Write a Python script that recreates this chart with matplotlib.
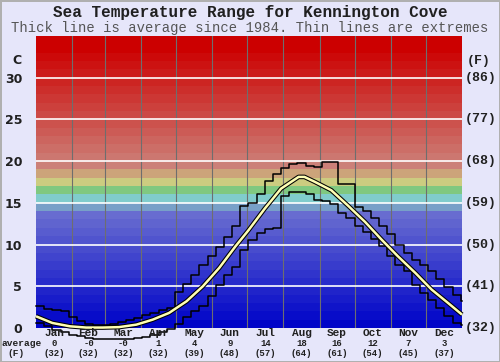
import numpy as np
import matplotlib.pyplot as plt

months = ['Jan', 'Feb', 'Mar', 'Apr', 'May', 'Jun', 'Jul', 'Aug', 'Sep', 'Oct', 'Nov', 'Dec']
month_days = [31, 28, 31, 30, 31, 30, 31, 31, 30, 31, 30, 31]
month_avg_c = ['0', '-0', '-0', '1', '4', '9', '14', '18', '16', '12', '7', '3']
month_avg_f = ['(32)', '(32)', '(32)', '(32)', '(39)', '(48)', '(57)', '(64)', '(61)', '(54)', '(45)', '(37)']

# average line, (day of year, deg C)
avg_day = [0, 14, 29, 43, 57, 71, 86, 100, 114, 129, 143, 157, 171,
           182, 196, 210, 225, 230, 239, 253, 267, 282, 296, 310, 325, 339, 353, 365]
avg_c = [1.4, 0.6, 0.2, 0.05, 0.05, 0.1, 0.4, 1.0, 1.8, 3.2, 5.0, 7.2, 9.8,
         11.7, 14.3, 16.7, 18.1, 18.1, 17.5, 16.5, 14.7, 12.7, 10.6, 8.6, 6.6, 4.6, 3.0, 1.6]

# weekly extremes, week 0..52
max_c = [2.6, 2.3, 2.1, 2.0, 1.3, 0.8, 0.5, 0.4, 0.4, 0.5, 0.7, 1.0, 1.2, 1.5,
         1.8, 2.1, 2.4, 4.3, 5.3, 6.3, 7.5, 8.6, 9.7, 10.9, 12.2, 14.6,
         15.0, 16.0, 17.6, 18.4, 19.2, 19.6, 19.8, 19.4, 19.3, 19.9, 19.9, 17.3,
         17.3, 14.5, 14.0, 13.2, 12.2, 11.2, 10.0, 9.0, 8.2, 7.5, 6.8, 5.9, 4.9, 4.0, 3.2]
min_c = [0.6, 0.2, -0.2, -0.5, -0.8, -1.0, -1.2, -1.3, -1.3, -1.3, -1.3, -1.3, -1.2,
         -1.1, -0.8, -0.5, -0.1, 0.5, 1.3, 2.0, 2.6, 3.8, 5.2, 6.3, 7.3, 9.3,
         10.5, 11.4, 11.9, 12.0, 15.8, 16.3, 16.3, 16.0, 15.3, 15.2, 14.8, 13.8,
         13.2, 12.2, 11.5, 10.6, 9.8, 8.6, 7.5, 6.8, 5.2, 4.2, 3.3, 2.4, 1.4, 0.6, 0.4]

c_ticks = [0, 5, 10, 15, 20, 25, 30]
f_labels = ['(32)', '(41)', '(50)', '(59)', '(68)', '(77)', '(86)']

mono = 'Liberation Mono'
bg = '#e6e6fa'

fig = plt.figure(figsize=(5, 3.62), dpi=100, facecolor=bg)
fig.patch.set_edgecolor('#b0b0b0')
fig.patch.set_linewidth(1)
ax = fig.add_axes([0.072, 0.094, 0.852, 0.807])
ax.set_xlim(0, 365)
ax.set_ylim(0, 35)


def band_colour(t):
    if t < 14:
        v = 8 * t
        return (v / 255, (v + 4) / 255, (200 + t * 0.6) / 255)
    special = {14: '#78a0c8', 15: '#80cccc', 16: '#80c880', 17: '#cccc80', 18: '#cca47a'}
    if t in special:
        return special[t]
    g = max(0.0, 128 * (1 - (t - 19) / 14))
    return (204 / 255, g / 255, g * 0.94 / 255)


for t in range(35):
    ax.axhspan(t, t + 1, color=band_colour(t), lw=0, zorder=0)

edges = np.cumsum([0] + month_days)
for d in edges[1:-1]:
    ax.axvline(d, color='#6e6e6e', lw=0.8, zorder=1)
for c in c_ticks[1:]:
    ax.axhline(c, color='white', lw=1.2, zorder=1)

# extremes as weekly steps
wk = np.arange(len(max_c)) * 7
wk = np.append(wk, 365)
ax.step(wk, np.append(max_c, max_c[-1]), where='post', color='black', lw=1.1, zorder=3, clip_on=False)
ax.step(wk, np.append(min_c, min_c[-1]), where='post', color='black', lw=1.1, zorder=3, clip_on=False)

# average
ax.plot(avg_day, avg_c, color='black', lw=3.3, zorder=4, clip_on=False, solid_capstyle='butt')
ax.plot(avg_day, avg_c, color='#ffffb4', lw=1.8, zorder=5, clip_on=False, solid_capstyle='butt')

for s in ax.spines.values():
    s.set_visible(False)
ax.set_xticks([])
ax.set_yticks(c_ticks)
ax.set_yticklabels([str(c) for c in c_ticks], fontsize=9, fontweight='bold', color='#202020')
ax.tick_params(axis='y', length=0, pad=10)

ytr = ax.get_yaxis_transform()
ax.text(-0.033, 32, 'C', transform=ytr, ha='right', va='center', fontsize=9,
        fontweight='bold', color='#202020')
for c, lab in zip(c_ticks, f_labels):
    ax.text(1.0075, c, lab, transform=ytr, ha='left', va='center', fontsize=9.5,
            fontweight='bold', family=mono, color='#202020')
ax.text(1.04, 32, '(F)', transform=ytr, ha='center', va='center', fontsize=9.5,
        fontweight='bold', family=mono, color='#202020')

# month labels below the plot
mid = edges[:-1] + np.array(month_days) / 2
for x, m, ac, af in zip(mid, months, month_avg_c, month_avg_f):
    xf = 0.072 + 0.852 * x / 365
    fig.text(xf, 1 - 333.5 / 362, m, ha='center', va='center', fontsize=8,
             fontweight='bold', family=mono, color='#202020', zorder=2)
    fig.text(xf, 1 - 344 / 362, ac, ha='center', va='center', fontsize=6.5,
             fontweight='bold', family=mono, color='#202020')
    fig.text(xf, 1 - 353.5 / 362, af, ha='center', va='center', fontsize=6.5,
             fontweight='bold', family=mono, color='#202020')
fig.text(2 / 500, 1 - 344 / 362, 'average', ha='left', va='center', fontsize=6.8,
         fontweight='bold', family=mono, color='#202020')
fig.text(16 / 500, 1 - 353.5 / 362, '(F)', ha='center', va='center', fontsize=6.8,
         fontweight='bold', family=mono, color='#202020')

fig.text(0.5, 1 - 12.5 / 362, 'Sea Temperature Range for Kennington Cove', ha='center',
         va='center', fontsize=11.5, fontweight='bold', family=mono, color='#202020')
fig.text(0.5, 1 - 28 / 362, 'Thick line is average since 1984. Thin lines are extremes',
         ha='center', va='center', fontsize=10, family=mono, color='#555555')

fig.savefig('out.png', dpi=100, facecolor=bg, edgecolor='#b0b0b0')
